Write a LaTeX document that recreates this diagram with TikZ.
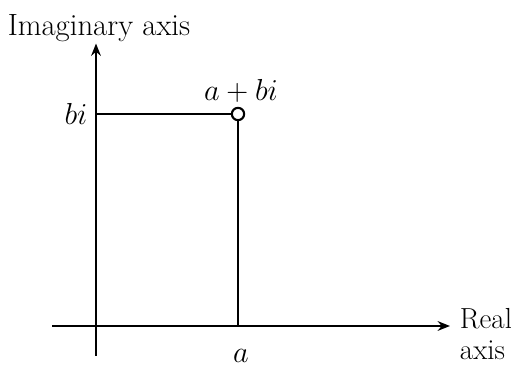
\documentclass[tikz,border=0pt]{standalone}
\usepackage{amsmath,amssymb}
\usepackage{tikz}
\usetikzlibrary{arrows.meta,positioning,calc}

\begin{document}
\begin{tikzpicture}[
  every node/.style={font=\fontsize{16}{19}\selectfont},
  axisline/.style={line width=1.6pt, -{Stealth[length=7pt,width=5.5pt]}},
  guide/.style={line width=1.6pt},
  pt/.style={circle, draw, line width=1.2pt, fill=white, minimum size=7pt, inner sep=0pt},
]

%% ── Frame: 511 x 371 px at 0.02 cm/px ───────────────────────────────────────
\useasboundingbox (0,0) rectangle (10.22,7.42);

\def\ox{1.92}   % imaginary axis x
\def\oy{0.90}   % real axis y
\def\px{4.76}   % a
\def\py{5.14}   % b

%% ── Axis ends ───────────────────────────────────────────────────────────────
\coordinate (reS) at (1.04, \oy);
\coordinate (reE) at (9.00, \oy);
\coordinate (imS) at (\ox, 0.30);
\coordinate (imE) at (\ox, 6.55);
\coordinate (bfoot) at (\ox, \py);
\coordinate (afoot) at (\px, \oy);

%% ── Axes ────────────────────────────────────────────────────────────────────
\draw[axisline] (reS) -- (reE);
\draw[axisline] (imS) -- (imE);

\node[font=\fontsize{17.5}{20}\selectfont] (imlab) at (1.98, 6.86) {Imaginary axis};
\node[align=left, font=\fontsize{16.5}{17.5}\selectfont] (relab) at (9.72, 0.74) {Real\\axis};

%% ── Point a + bi ────────────────────────────────────────────────────────────
\node[pt] (p) at (\px, \py) {};
\draw[guide] (bfoot) -- (p);
\draw[guide] (p) -- (afoot);

\node (plab) at (4.82, 5.60) {$a+bi$};
\node (blab) at (1.52, \py) {$bi$};
\node (alab) at (4.82, 0.30) {$a$};

\end{tikzpicture}
\end{document}
